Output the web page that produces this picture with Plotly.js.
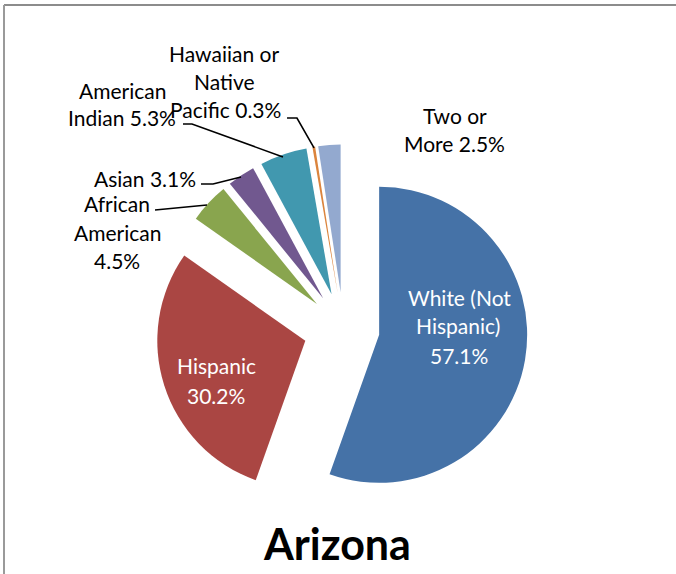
<!DOCTYPE html>
<html>
<head>
<meta charset="utf-8">
<script src="https://cdn.plot.ly/plotly-3.0.1.min.js"></script>
<style>html,body{margin:0;padding:0;background:#fff;}#chart{width:676px;height:574px;}</style>
</head>
<body>
<div id="chart"></div>
<script>
// ---- data ----
const categories = ["White (Not Hispanic)", "Hispanic", "African American", "Asian", "American Indian", "Hawaiian or Native Pacific", "Two or More"];
const shares = [57.1, 30.2, 4.5, 3.1, 5.3, 0.3, 2.5];
const sliceColors = ["#4572A7", "#AA4643", "#89A54E", "#71588F", "#4198AF", "#DB843D", "#93A9CF"];
const chartTitle = "Arizona";

// ---- helpers (pixel -> paper) ----
const W = 676, H = 574;
const X = x => x / W;
const Y = y => 1 - y / H;
const FONT = "Lato, 'Open Sans', sans-serif";

function lbl(text, x, y, color, size, bold) {
  return {
    text: bold ? "<b>" + text + "</b>" : text,
    x: X(x), y: Y(y), xref: "paper", yref: "paper",
    xanchor: "center", yanchor: "middle", showarrow: false,
    font: {family: FONT, size: size || 21, color: color || "#000"}
  };
}
function pct(i) { return shares[i].toFixed(1) + "%"; }

function leader(pts) {
  let d = pts.map((p, i) => (i ? "L" : "M") + X(p[0]).toFixed(4) + "," + Y(p[1]).toFixed(4)).join(" ");
  return {type: "path", xref: "paper", yref: "paper", path: d, line: {color: "#000", width: 1.6}};
}

const annotations = [
  // inside labels
  lbl("White (Not", 459, 297, "#fff"),
  lbl("Hispanic)", 458, 325, "#fff"),
  lbl(pct(0), 459, 355, "#fff"),
  lbl("Hispanic", 217, 365, "#fff"),
  lbl(pct(1), 216, 395, "#fff"),
  // outside labels
  lbl("African", 117, 203),
  lbl("American", 117, 232),
  lbl(pct(2), 117, 260),
  lbl("Asian " + pct(3), 145, 178),
  lbl("American", 122, 90),
  lbl("Indian " + pct(4), 122, 118),
  lbl("Hawaiian or", 224, 53),
  lbl("Native", 224, 82),
  lbl("Pacific " + pct(5), 225, 110),
  lbl("Two or", 455, 115),
  lbl("More " + pct(6), 454, 143),
  // title
  lbl(chartTitle, 337, 543, "#000", 43, true)
];

const shapes = [
  leader([[287,118],[297,118],[314,148]]),
  leader([[183,124],[192,124],[283,157]]),
  leader([[201,184],[213,184],[241,177]]),
  leader([[155,210],[207,205]]),
  // chart frame
  {type: "line", xref: "paper", yref: "paper", x0: X(4), x1: 1, y0: Y(5), y1: Y(5), line: {color: "#8c8c8c", width: 2}},
  {type: "line", xref: "paper", yref: "paper", x0: X(4), x1: X(4), y0: Y(5), y1: 0, line: {color: "#9a9a9a", width: 2}}
];

const trace = {
  type: "pie",
  labels: categories,
  values: shares,
  marker: {colors: sliceColors, line: {width: 0}},
  sort: false,
  direction: "clockwise",
  rotation: 0,
  pull: [0.245, 0.27, 0.245, 0.245, 0.245, 0.245, 0.245],
  textinfo: "none",
  hoverinfo: "label+value",
  domain: {x: [0.229, 0.787], y: [0.100, 0.755]}
};

const layout = {
  width: W, height: H,
  margin: {l: 0, r: 0, t: 0, b: 0},
  paper_bgcolor: "#fff",
  showlegend: false,
  annotations: annotations,
  shapes: shapes
};

Plotly.newPlot("chart", [trace], layout, {displayModeBar: false, staticPlot: true});
</script>
</body>
</html>
